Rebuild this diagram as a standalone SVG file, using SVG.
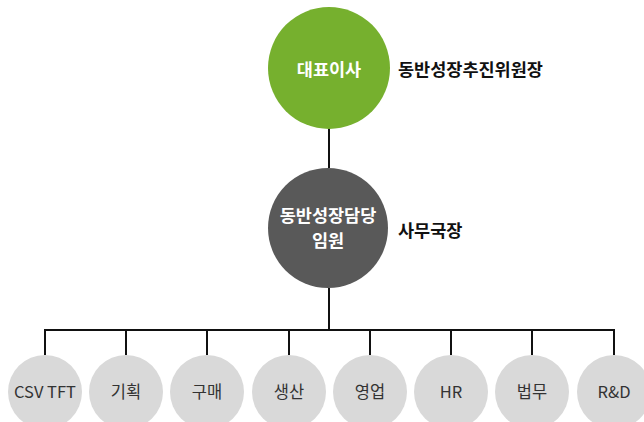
<svg xmlns="http://www.w3.org/2000/svg" width="644" height="422" viewBox="0 0 644 422">
<style>
.t{font-family:"Noto Sans CJK KR","Noto Sans",sans-serif;}
.w{fill:#fff;font-weight:bold;font-size:17.5px;text-anchor:middle;}
.b{fill:#111;font-weight:bold;font-size:17.5px;}
.d{fill:#333;font-size:16.5px;text-anchor:middle;}
.leaf{fill:#d9d9d9;}
.ln{stroke:#111;stroke-width:2;fill:none;}
</style>
<rect width="644" height="422" fill="#fff"/>
<g id="connectors">
<line class="ln" x1="329" y1="128" x2="329" y2="168"/>
<line class="ln" x1="329" y1="288" x2="329" y2="330"/>
<polyline class="ln" points="45,355 45,330 614,330 614,355"/>
<line class="ln" x1="126" y1="330" x2="126" y2="355"/>
<line class="ln" x1="207" y1="330" x2="207" y2="355"/>
<line class="ln" x1="289" y1="330" x2="289" y2="355"/>
<line class="ln" x1="370" y1="330" x2="370" y2="355"/>
<line class="ln" x1="451" y1="330" x2="451" y2="355"/>
<line class="ln" x1="532" y1="330" x2="532" y2="355"/>
</g>
<g id="ceo">
<circle cx="329" cy="68" r="61" fill="#76b02e"/>
<text class="t w" x="329" y="75.5">대표이사</text>
<text class="t b" x="398" y="75.5">동반성장추진위원장</text>
</g>
<g id="officer">
<circle cx="328" cy="228" r="60" fill="#595959"/>
<text class="t w" x="328" y="221.5">동반성장담당</text>
<text class="t w" x="328" y="246.5">임원</text>
<text class="t b" x="398" y="236.5">사무국장</text>
</g>
<g id="csv"><circle class="leaf" cx="45" cy="392" r="37"/><text class="t d" x="45" y="398">CSV TFT</text></g>
<g id="plan"><circle class="leaf" cx="126" cy="392" r="37"/><text class="t d" x="126" y="398">기획</text></g>
<g id="purchase"><circle class="leaf" cx="207" cy="392" r="37"/><text class="t d" x="207" y="398">구매</text></g>
<g id="production"><circle class="leaf" cx="289" cy="392" r="37"/><text class="t d" x="289" y="398">생산</text></g>
<g id="sales"><circle class="leaf" cx="370" cy="392" r="37"/><text class="t d" x="370" y="398">영업</text></g>
<g id="hr"><circle class="leaf" cx="451" cy="392" r="37"/><text class="t d" x="451" y="398">HR</text></g>
<g id="legal"><circle class="leaf" cx="532" cy="392" r="37"/><text class="t d" x="532" y="398">법무</text></g>
<g id="rnd"><circle class="leaf" cx="614" cy="392" r="37"/><text class="t d" x="614" y="398">R&amp;D</text></g>
</svg>
